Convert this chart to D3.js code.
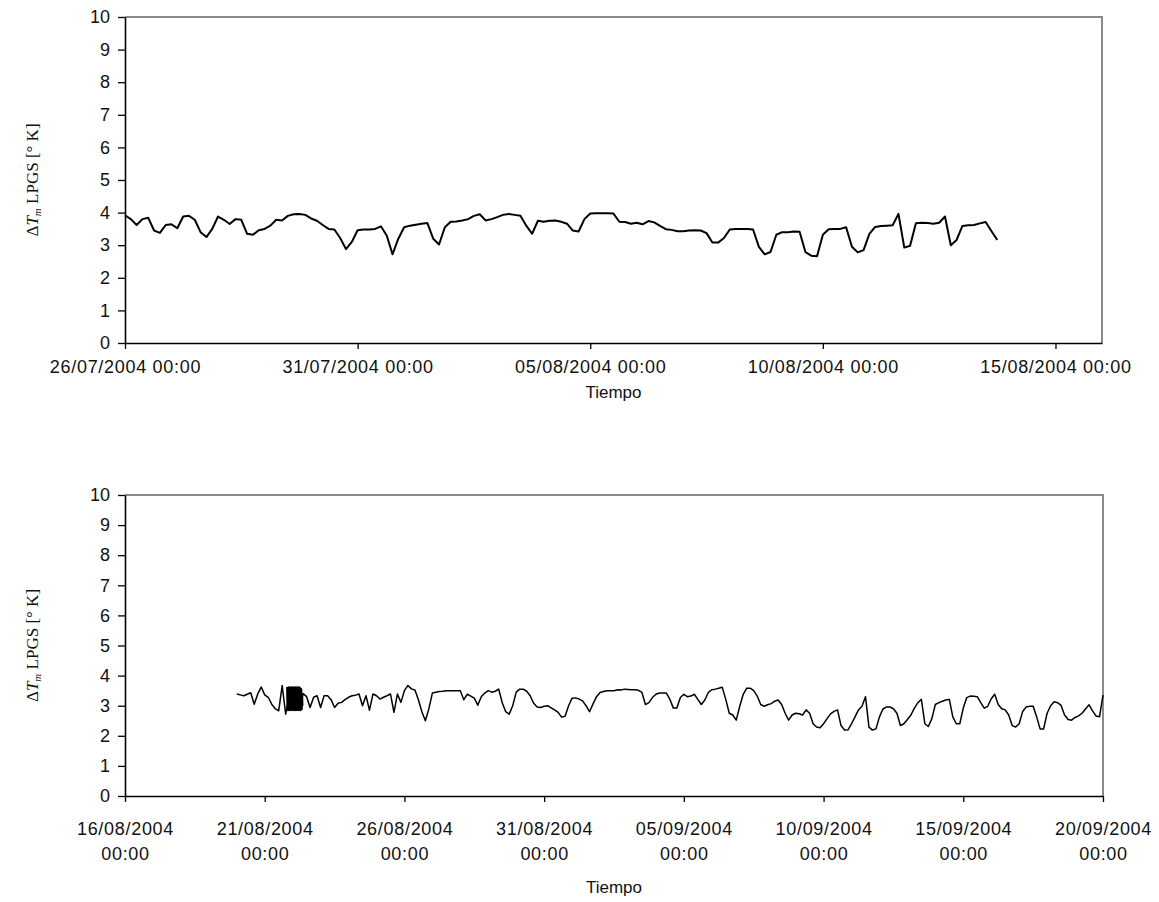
<!DOCTYPE html>
<html>
<head>
<meta charset="utf-8">
<script src="https://cdn.jsdelivr.net/npm/d3@7"></script>
<style>
body { margin: 0; background: #fff; }
text { fill: #111; }
</style>
</head>
<body>
<svg width="1159" height="902"></svg>
<script>
//data (3 hour samples)
const stepHours = 3;

const topStart = "26/07/2004 00:00";
const topValues = [
	3.92,3.80,3.62,3.80,3.84,3.45,3.38,3.62,3.64,3.52,
	3.88,3.90,3.78,3.40,3.25,3.50,3.88,3.78,3.65,3.80,
	3.78,3.35,3.32,3.46,3.50,3.60,3.78,3.76,3.90,3.95,
	3.96,3.93,3.82,3.75,3.62,3.50,3.48,3.22,2.88,3.10,
	3.46,3.48,3.48,3.50,3.58,3.30,2.72,3.20,3.55,3.60,
	3.63,3.66,3.68,3.20,3.02,3.55,3.72,3.73,3.76,3.80,
	3.90,3.95,3.76,3.80,3.86,3.93,3.96,3.93,3.90,3.60,
	3.35,3.75,3.72,3.75,3.76,3.72,3.66,3.45,3.42,3.80,
	3.97,3.98,3.98,3.98,3.97,3.72,3.71,3.66,3.69,3.64,
	3.74,3.70,3.59,3.49,3.47,3.43,3.43,3.45,3.46,3.45,
	3.37,3.08,3.08,3.22,3.48,3.50,3.50,3.50,3.48,2.95,
	2.72,2.79,3.32,3.40,3.40,3.42,3.41,2.79,2.68,2.66,
	3.32,3.49,3.50,3.50,3.55,2.95,2.78,2.85,3.35,3.56,
	3.59,3.60,3.61,3.96,2.93,2.98,3.67,3.69,3.68,3.66,
	3.69,3.88,3.00,3.16,3.59,3.61,3.62,3.67,3.71,3.43,3.16
];

const bottomStart = "20/08/2004 00:00";
const bottomValues = [
	3.39,3.36,3.33,3.38,3.43,3.05,3.39,3.62,3.36,3.28,
	3.05,2.90,2.83,3.67,2.72,3.30,2.90,3.50,2.95,3.40,
	3.30,2.94,3.28,3.33,2.94,3.33,3.33,3.20,2.94,3.08,
	3.11,3.20,3.28,3.33,3.35,3.39,3.00,3.33,2.85,3.39,
	3.33,3.22,3.28,3.33,3.39,2.78,3.39,3.11,3.50,3.67,
	3.56,3.52,3.20,2.80,2.50,2.90,3.42,3.45,3.47,3.48,
	3.50,3.50,3.50,3.50,3.50,3.20,3.38,3.32,3.25,3.02,
	3.30,3.42,3.50,3.45,3.48,3.55,3.10,2.80,2.72,3.00,
	3.45,3.55,3.55,3.48,3.33,3.08,2.96,2.94,2.98,3.00,
	2.93,2.86,2.78,2.62,2.65,3.00,3.25,3.26,3.22,3.16,
	3.00,2.80,3.06,3.30,3.44,3.47,3.50,3.50,3.50,3.53,
	3.52,3.55,3.54,3.53,3.53,3.51,3.44,3.04,3.10,3.27,
	3.38,3.42,3.42,3.42,3.21,2.92,2.92,3.27,3.38,3.30,
	3.32,3.38,3.21,3.04,3.19,3.44,3.53,3.55,3.58,3.61,
	3.21,2.75,2.69,2.52,2.98,3.38,3.58,3.58,3.50,3.32,
	3.04,2.98,3.03,3.07,3.15,3.19,3.04,2.75,2.52,2.69,
	2.75,2.73,2.69,2.86,2.75,2.40,2.29,2.27,2.40,2.57,
	2.73,2.81,2.86,2.34,2.19,2.20,2.40,2.63,2.86,2.98,
	3.30,2.29,2.19,2.23,2.63,2.89,2.96,2.96,2.90,2.75,
	2.34,2.40,2.54,2.69,2.92,3.10,3.21,2.40,2.31,2.57,
	3.04,3.10,3.15,3.19,3.21,2.63,2.40,2.40,2.92,3.27,
	3.32,3.31,3.30,3.10,2.92,2.98,3.23,3.38,3.04,2.90,
	2.86,2.69,2.34,2.29,2.40,2.81,2.96,2.98,2.98,2.63,
	2.23,2.23,2.75,3.00,3.13,3.10,3.01,2.69,2.54,2.52,
	2.61,2.66,2.75,2.89,3.03,2.83,2.66,2.63,3.35
];

//the dense black block around 21-22/08 (20 minute samples)
const burstStart = "21/08/2004 19:00";
const burstStepMin = 20;
const burstValues = [
	3.62,2.84,3.60,2.86,3.62,2.84,3.61,2.85,3.62,2.86,
	3.60,2.84,3.62,2.85,3.61,2.86,3.62,2.84,3.60,2.85,
	3.62,2.86,3.61,2.84,3.62,2.85,3.60,2.86,3.62,2.84,
	3.61,2.85,3.62,2.86,3.60,2.84,3.58,2.86,3.55,2.88,
	3.40,3.00
];

const topTicks = ["26/07/2004", "31/07/2004", "05/08/2004", "10/08/2004", "15/08/2004"];
const bottomTicks = ["16/08/2004", "21/08/2004", "26/08/2004", "31/08/2004",
	"05/09/2004", "10/09/2004", "15/09/2004", "20/09/2004"];
const yTicks = [0, 1, 2, 3, 4, 5, 6, 7, 8, 9, 10];


const sans = '"Liberation Sans", Arial, sans-serif';
const serif = '"Liberation Serif", "Times New Roman", serif';
const parseDT = d3.timeParse("%d/%m/%Y %H:%M");
const parseD = d3.timeParse("%d/%m/%Y");
const fmt = d3.timeFormat("%d/%m/%Y %H:%M");
const svg = d3.select('svg');

const toSeries = (start, values, minutes) => {
	const t0 = parseDT(start);
	return values.map((v, i) => ({ t: d3.timeMinute.offset(t0, i * minutes), v: v }));
};

const drawChart = (cfg) => {

	const x = d3.scaleTime().domain(cfg.domain).range([cfg.left, cfg.right]);
	const y = d3.scaleLinear().domain([0, 10]).range([cfg.bottom, cfg.top]);

	//grey frame top and right
	svg.append('path')
		.attr('d', `M${cfg.left},${cfg.top}H${cfg.right}V${cfg.bottom}`)
		.attr('fill', 'none')
		.attr('stroke', '#8a8a8a')
		.attr('stroke-width', 2);

	//y axis
	const gy = svg.append('g')
		.attr('transform', `translate(${cfg.left},0)`)
		.call(d3.axisLeft(y).tickValues(yTicks).tickSize(7).tickSizeOuter(0).tickPadding(8));
	gy.selectAll('text').style('font-size', '18px').style('font-family', sans);

	//x axis
	const gx = svg.append('g')
		.attr('transform', `translate(0,${cfg.bottom})`)
		.call(d3.axisBottom(x).tickValues(cfg.ticks).tickSize(6).tickSizeOuter(0).tickFormat(fmt));
	gx.selectAll('text')
		.style('font-size', '18px')
		.style('font-family', sans)
		.attr('letter-spacing', 0.7)
		.attr('dy', null)
		.attr('y', 30);

	if (cfg.twoLines) {
		gx.selectAll('text').each(function() {
			const parts = d3.select(this).text().split(' ');
			const t = d3.select(this).text(null).attr('y', null);
			t.append('tspan').attr('x', 0).attr('y', 39).text(parts[0]);
			t.append('tspan').attr('x', 0).attr('y', 64).text(parts[1]);
		});
	}

	[gx, gy].forEach(g => {
		g.select('.domain').attr('stroke', '#000').attr('stroke-width', 1.6);
		g.selectAll('.tick line').attr('stroke', '#000').attr('stroke-width', 1.3);
	});

	//series
	const line = d3.line().x(d => x(d.t)).y(d => y(d.v));
	cfg.series.forEach(s => {
		svg.append('path')
			.datum(s)
			.attr('d', line)
			.attr('fill', 'none')
			.attr('stroke', '#000')
			.attr('stroke-width', cfg.lineWidth)
			.attr('stroke-linejoin', 'round');
	});

	//axis titles
	svg.append('text')
		.attr('x', (cfg.left + cfg.right) / 2)
		.attr('y', cfg.titleY)
		.attr('text-anchor', 'middle')
		.style('font-family', sans)
		.style('font-size', '17px')
		.text('Tiempo');

	const yl = svg.append('text')
		.attr('transform', `translate(38,${(cfg.top + cfg.bottom) / 2}) rotate(-90)`)
		.attr('text-anchor', 'middle')
		.style('font-family', serif)
		.style('font-size', '17px');
	yl.append('tspan').text('Δ');
	yl.append('tspan').style('font-style', 'italic').text('T');
	yl.append('tspan').style('font-style', 'italic').style('font-size', '11px').attr('dy', 3).text('m');
	yl.append('tspan').attr('dy', -3).text(' LPGS [° K]');
};

drawChart({
	left: 125, right: 1102, top: 17, bottom: 343,
	domain: [parseD("26/07/2004"), parseD("16/08/2004")],
	ticks: topTicks.map(parseD),
	twoLines: false,
	titleY: 398,
	lineWidth: 2,
	series: [toSeries(topStart, topValues, stepHours * 60)]
});

drawChart({
	left: 125, right: 1103, top: 495, bottom: 796,
	domain: [parseD("16/08/2004"), parseD("20/09/2004")],
	ticks: bottomTicks.map(parseD),
	twoLines: true,
	titleY: 893,
	lineWidth: 1.5,
	series: [toSeries(bottomStart, bottomValues, stepHours * 60), toSeries(burstStart, burstValues, burstStepMin)]
});
</script>
</body>
</html>
